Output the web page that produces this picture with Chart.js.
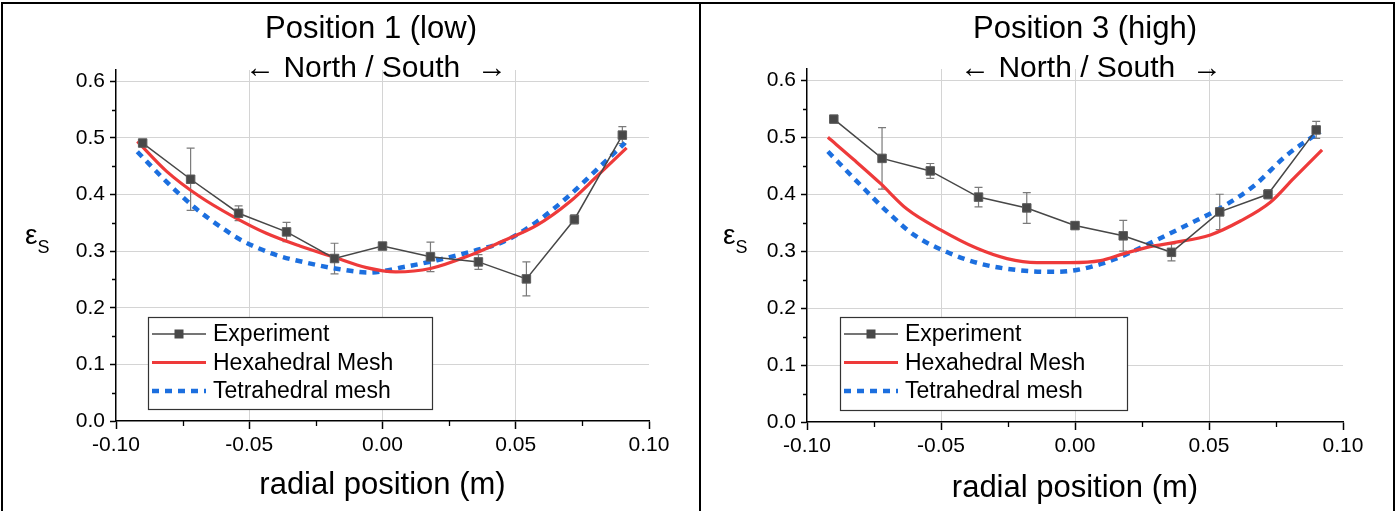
<!DOCTYPE html>
<html>
<head>
<meta charset="utf-8">
<script src="https://cdn.jsdelivr.net/npm/chart.js@4.4.1/dist/chart.umd.min.js"></script>
<style>
  body { margin:0; background:#fff; width:1400px; height:511px; overflow:hidden; position:relative; }
  #frame { position:absolute; left:1px; top:2px; width:1390px; height:520px; border:2px solid #000; border-bottom:none; }
  #divider { position:absolute; left:699px; top:2px; width:2px; height:520px; background:#000; }
  canvas { position:absolute; }
</style>
</head>
<body>
<div id="frame"></div>
<div id="divider"></div>
<canvas id="low" width="696" height="507" style="left:3px;top:4px"></canvas>
<canvas id="high" width="692" height="507" style="left:701px;top:4px"></canvas>
<script>
const FONT = "'Liberation Sans', Arial, sans-serif";

// measurement positions (m)
const expX = [-0.09, -0.072, -0.054, -0.036, -0.018, 0, 0.018, 0.036, 0.054, 0.072, 0.09];

// position 1 (low)
const lowExpY   = [0.491, 0.427, 0.367, 0.334, 0.287, 0.309, 0.290, 0.281, 0.251, 0.356, 0.505];
const lowExpErr = [0.004, 0.055, 0.013, 0.017, 0.027, 0.006, 0.026, 0.013, 0.030, 0.008, 0.015];
const lowHexX = [-0.092, -0.081, -0.0686, -0.056, -0.0436, -0.031, -0.0186, -0.006, 0.005, 0.018, 0.033, 0.0454, 0.058, 0.0704, 0.0804, 0.0916];
const lowHexY = [0.494, 0.441, 0.3965, 0.361, 0.3315, 0.309, 0.290, 0.271, 0.2634, 0.2694, 0.293, 0.3185, 0.346, 0.3877, 0.432, 0.4826];
const lowTetX = [-0.092, -0.081, -0.070, -0.060, -0.0536, -0.041, -0.0286, -0.016, -0.005, 0.008, 0.0204, 0.0354, 0.0454, 0.0579, 0.0704, 0.0804, 0.091];
const lowTetY = [0.4757, 0.4224, 0.3752, 0.3405, 0.321, 0.295, 0.2796, 0.268, 0.2623, 0.272, 0.284, 0.302, 0.3167, 0.352, 0.3996, 0.444, 0.4913];

// position 3 (high)
const highExpY   = [0.532, 0.463, 0.441, 0.395, 0.376, 0.345, 0.327, 0.298, 0.369, 0.400, 0.513];
const highExpErr = [0.004, 0.054, 0.013, 0.017, 0.027, 0.006, 0.027, 0.015, 0.031, 0.008, 0.015];
const highHexX = [-0.0922, -0.0826, -0.0726, -0.0627, -0.050, -0.0366, -0.0254, -0.0142, -0.0018, 0.0095, 0.018, 0.028, 0.0368, 0.0505, 0.0617, 0.0729, 0.0816, 0.0922];
const highHexY = [0.500, 0.461, 0.419, 0.374, 0.337, 0.305, 0.287, 0.280, 0.280, 0.2835, 0.2953, 0.308, 0.315, 0.3286, 0.353, 0.386, 0.428, 0.478];
const highTetX = [-0.0922, -0.080, -0.0701, -0.0602, -0.0478, -0.0353, -0.0218, -0.0075, -0.0006, 0.0107, 0.0194, 0.0293, 0.0418, 0.0542, 0.0667, 0.0791, 0.0915];
const highTetY = [0.475, 0.416, 0.3695, 0.329, 0.2985, 0.278, 0.267, 0.2637, 0.266, 0.279, 0.295, 0.317, 0.346, 0.3755, 0.4146, 0.469, 0.51];

const seriesNames = ['Experiment', 'Hexahedral Mesh', 'Tetrahedral mesh'];
const xTicks = [-0.10, -0.05, 0.00, 0.05, 0.10];
const yTicks = [0.0, 0.1, 0.2, 0.3, 0.4, 0.5, 0.6];
const xMinor = [-0.075, -0.025, 0.025, 0.075];
const yMinor = [0.05, 0.15, 0.25, 0.35, 0.45, 0.55];

const pts = (xs, ys) => xs.map((x, i) => ({x: x, y: ys[i]}));
const fmt = (v, d) => (Math.abs(v) < 1e-9 ? 0 : v).toFixed(d);

// vertical error bars on the experiment series
const errorBars = {
  id: 'errorBars',
  beforeDatasetsDraw(chart, args, opts) {
    const ctx = chart.ctx, xs = chart.scales.x, ys = chart.scales.y;
    ctx.save();
    ctx.strokeStyle = '#7a7a7a';
    ctx.lineWidth = 1.2;
    ctx.beginPath();
    chart.data.datasets[0].data.forEach((p, i) => {
      const e = opts.errors[i];
      const px = xs.getPixelForValue(p.x);
      const top = ys.getPixelForValue(p.y + e), bot = ys.getPixelForValue(p.y - e);
      ctx.moveTo(px, top); ctx.lineTo(px, bot);
      ctx.moveTo(px - 4, top); ctx.lineTo(px + 4, top);
      ctx.moveTo(px - 4, bot); ctx.lineTo(px + 4, bot);
    });
    ctx.stroke();
    ctx.restore();
  }
};

// titles, eps_s label, minor ticks and the boxed legend
const panelText = {
  id: 'panelText',
  afterDraw(chart, args, o) {
    const ctx = chart.ctx, a = chart.chartArea, xs = chart.scales.x, ys = chart.scales.y;
    ctx.save();
    ctx.fillStyle = '#000';
    ctx.textAlign = 'center';
    ctx.textBaseline = 'middle';
    ctx.font = '31px ' + FONT;
    ctx.fillText(o.title, o.titleX, o.titleY);
    ctx.font = '30px ' + FONT;
    ctx.fillText('\u2190 North / South  \u2192', o.subX, o.subY);
    ctx.font = '31px ' + FONT;
    ctx.fillText('radial position (m)', (a.left + a.right) / 2, o.xTitleY);

    ctx.textAlign = 'left';
    ctx.textBaseline = 'alphabetic';
    ctx.font = '28px ' + FONT;
    ctx.fillText('\u03b5', o.yTitleX, 240);
    const w = ctx.measureText('\u03b5').width;
    ctx.font = '18px ' + FONT;
    ctx.fillText('S', o.yTitleX + w, 249);

    // minor ticks
    ctx.strokeStyle = '#000';
    ctx.lineWidth = 1.3;
    ctx.beginPath();
    yMinor.forEach(v => {
      const p = Math.round(ys.getPixelForValue(v)) + 0.5;
      ctx.moveTo(a.left, p); ctx.lineTo(a.left - 4, p);
    });
    xMinor.forEach(v => {
      const p = Math.round(xs.getPixelForValue(v)) + 0.5;
      ctx.moveTo(p, a.bottom); ctx.lineTo(p, a.bottom + 5);
    });
    ctx.stroke();

    // legend
    const bx = a.left + o.legX, by = o.legTop;
    ctx.fillStyle = '#fff';
    ctx.fillRect(bx, by, o.legW, o.legH);
    ctx.strokeStyle = '#333';
    ctx.lineWidth = 1.2;
    ctx.strokeRect(bx + 0.5, by + 0.5, o.legW, o.legH);
    const rows = [17, 45.5, 74];
    chart.data.datasets.forEach((ds, i) => {
      const y = by + rows[i];
      ctx.save();
      ctx.strokeStyle = ds.borderColor;
      ctx.lineWidth = ds.borderWidth;
      ctx.setLineDash(ds.borderDash || []);
      ctx.beginPath();
      ctx.moveTo(bx + 4, y); ctx.lineTo(bx + 58, y);
      ctx.stroke();
      if (i === 0) {
        ctx.fillStyle = ds.backgroundColor;
        ctx.fillRect(bx + 31 - 4.5, y - 4.5, 9, 9);
      }
      ctx.restore();
      ctx.fillStyle = '#000';
      ctx.textBaseline = 'middle';
      ctx.font = '23px ' + FONT;
      ctx.fillText(ds.label, bx + 65, y + 1);
    });
    ctx.restore();
  }
};

function makeChart(id, c) {
  return new Chart(document.getElementById(id), {
    type: 'line',
    data: {
      datasets: [
        { label: seriesNames[0], data: pts(expX, c.expY), borderColor: '#474747', backgroundColor: '#484848',
          borderWidth: 1.5, pointStyle: 'rect', pointRadius: 6, pointBorderColor: '#5c5c5c', pointBorderWidth: 1,
          tension: 0, order: 0 },
        { label: seriesNames[1], data: pts(c.hexX, c.hexY), borderColor: '#EE3A3A', borderWidth: 3.2,
          pointRadius: 0, cubicInterpolationMode: 'monotone', order: 1 },
        { label: seriesNames[2], data: pts(c.tetX, c.tetY), borderColor: '#1C6FDF', borderWidth: 4.5,
          borderDash: [7, 6], pointRadius: 0, cubicInterpolationMode: 'monotone', order: 2 }
      ]
    },
    options: {
      responsive: false,
      animation: false,
      layout: { padding: { left: 0, right: c.padRight, top: c.padTop, bottom: 0 } },
      plugins: {
        legend: { display: false },
        tooltip: { enabled: false },
        errorBars: { errors: c.expErr },
        panelText: c.text
      },
      scales: {
        x: {
          type: 'linear', min: -0.1, max: 0.1,
          afterBuildTicks: s => { s.ticks = xTicks.map(v => ({value: v})); },
          afterFit: s => { s.height = c.xH; },
          ticks: { color: '#000', padding: 4, maxRotation: 0, autoSkip: false,
                   font: { family: FONT, size: 21 }, callback: v => fmt(v, 2) },
          grid: { color: g => Math.abs(Math.abs(g.tick.value) - 0.1) < 1e-9 ? 'rgba(0,0,0,0)' : '#d4d4d4',
                  tickColor: '#000', tickLength: 8, tickWidth: 1.5, lineWidth: 1 },
          border: { color: '#000', width: 1.5 }
        },
        y: {
          type: 'linear', min: 0, max: 0.62,
          afterBuildTicks: s => { s.ticks = yTicks.map(v => ({value: v})); },
          afterFit: s => { s.width = c.yW; },
          ticks: { color: '#000', padding: 5, autoSkip: false,
                   font: { family: FONT, size: 21 }, callback: v => fmt(v, 1) },
          grid: { color: g => Math.abs(g.tick.value) < 1e-9 ? 'rgba(0,0,0,0)' : '#d4d4d4',
                  tickColor: '#000', tickLength: 6, tickWidth: 1.5, lineWidth: 1 },
          border: { color: '#000', width: 1.5 }
        }
      }
    },
    plugins: [errorBars, panelText]
  });
}

makeChart('low', {
  expY: lowExpY, expErr: lowExpErr, hexX: lowHexX, hexY: lowHexY, tetX: lowTetX, tetY: lowTetY,
  padRight: 50, padTop: 66, xH: 90, yW: 113,
  text: { title: 'Position 1 (low)', titleX: 368, titleY: 25, subX: 373, subY: 64.5, xTitleY: 481,
          yTitleX: 22, legX: 32, legTop: 313, legW: 284, legH: 92 }
});

makeChart('high', {
  expY: highExpY, expErr: highExpErr, hexX: highHexX, hexY: highHexY, tetX: highTetX, tetY: highTetY,
  padRight: 50, padTop: 65, xH: 89, yW: 106,
  text: { title: 'Position 3 (high)', titleX: 384, titleY: 25, subX: 390, subY: 64.5, xTitleY: 484,
          yTitleX: 22, legX: 33, legTop: 313, legW: 287, legH: 93 }
});
</script>
</body>
</html>
